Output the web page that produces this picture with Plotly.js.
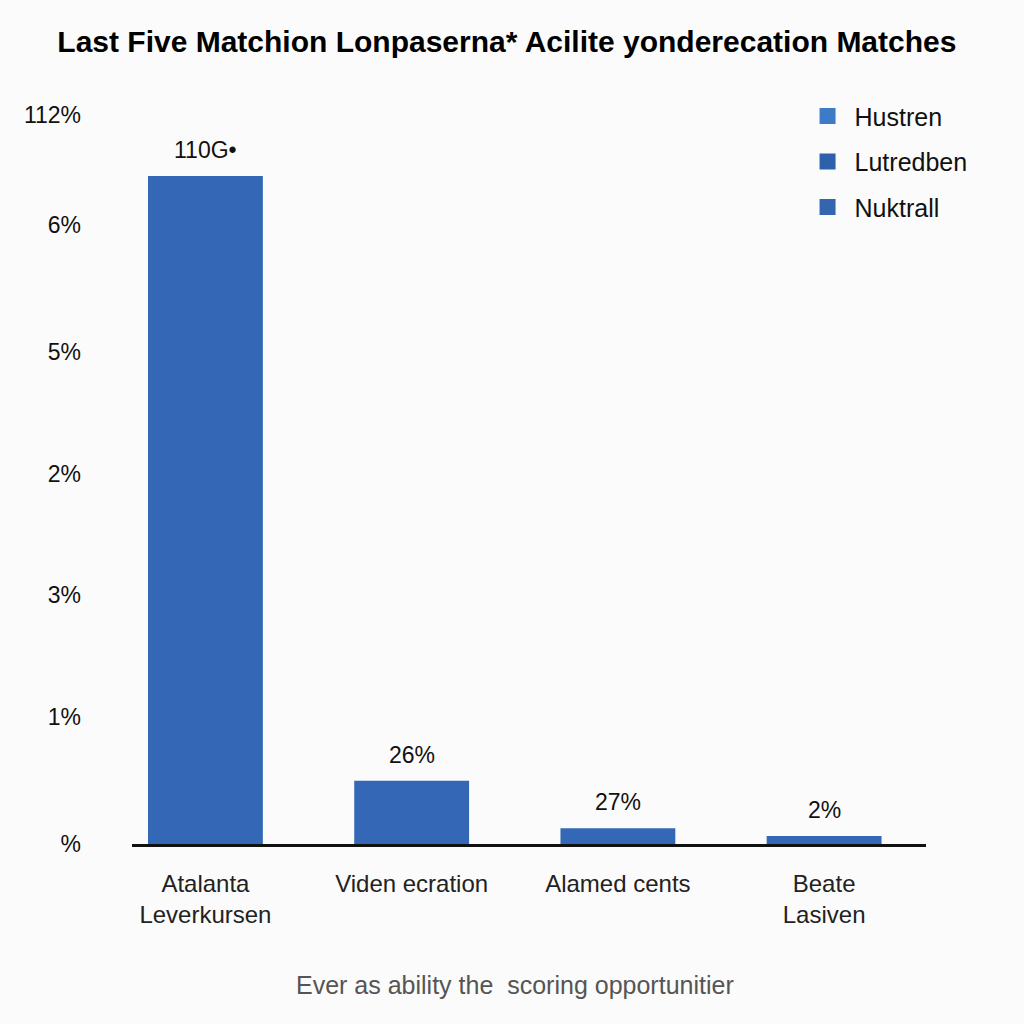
<!DOCTYPE html>
<html>
<head>
<meta charset="utf-8">
<script src="https://cdn.plot.ly/plotly-3.0.1.min.js"></script>
<style>
  html, body { margin: 0; padding: 0; background: #fbfbfb; }
  #chart { width: 1024px; height: 1024px; }
</style>
</head>
<body>
<div id="chart"></div>
<script>
// chart values
var teams = ["Atalanta<br>Leverkursen", "Viden ecration", "Alamed cents", "Beate<br>Lasiven"];
var scores = [110, 10.4, 2.6, 1.3];
var barLabels = ["110G\u2022", "26%", "27%", "2%"];
var tickVals = [0, 21, 41, 61, 81, 102, 120];
var tickText = ["%", "1%", "3%", "2%", "5%", "6%", "112%"];
var legendNames = ["Hustren", "Lutredben", "Nuktrall"];
var legendColors = ["#3b7bc8", "#2f60aa", "#3466b0"];
var xTitle = "Ever as ability the  scoring opportunitier";

var font = "Liberation Sans, Arial, sans-serif";

var traces = [
  {
    type: "bar",
    x: teams,
    y: scores,
    width: 0.557,
    marker: { color: "#3468b6", line: { width: 0 } },
    showlegend: false,
    hoverinfo: "skip",
  },
];
for (var i = 0; i < legendNames.length; i++) {
  traces.push({
    type: "scatter",
    mode: "markers",
    x: [null],
    y: [null],
    name: legendNames[i],
    legendgroup: "g" + i,
    marker: { symbol: "square", size: 20, color: legendColors[i] },
  });
}

var notes = [];
for (var j = 0; j < teams.length; j++) {
  notes.push({
    x: teams[j],
    y: scores[j],
    text: barLabels[j],
    showarrow: false,
    yanchor: "bottom",
    yshift: 11,
    font: { family: font, size: 23, color: "#111" },
  });
}
// axis title placed as a paper note
notes.push({
  xref: "paper",
  yref: "paper",
  x: 0.482,
  y: -0.187,
  xanchor: "center",
  yanchor: "middle",
  text: xTitle,
  showarrow: false,
  font: { family: font, size: 25, color: "#555" },
});

var layout = {
  width: 1024,
  height: 1024,
  paper_bgcolor: "#fbfbfb",
  plot_bgcolor: "#fbfbfb",
  margin: { l: 132, r: 98, t: 91, b: 180 },
  title: {
    text: "<b>Last Five Matchion Lonpaserna* Acilite yonderecation Matches</b>",
    x: 0.495,
    xanchor: "center",
    yref: "container",
    y: 0.959,
    yanchor: "middle",
    font: { family: font, size: 30, color: "#000" },
  },
  xaxis: {
    range: [-0.356, 3.494],
    showline: true,
    linecolor: "#111",
    linewidth: 3,
    showgrid: false,
    zeroline: false,
    ticks: "",
    ticklabelstandoff: 16,
    tickfont: { family: font, size: 24, color: "#222" },
    automargin: false,
  },
  yaxis: {
    range: [0, 124],
    showline: false,
    showgrid: false,
    zeroline: false,
    tickmode: "array",
    tickvals: tickVals,
    ticktext: tickText,
    ticks: "",
    ticklabelstandoff: 50,
    automargin: false,
    tickfont: { family: font, size: 23, color: "#111" },
  },
  legend: {
    x: 0.842,
    xanchor: "left",
    y: 0.997,
    yanchor: "top",
    bgcolor: "rgba(0,0,0,0)",
    tracegroupgap: 10,
    itemwidth: 44,
    font: { family: font, size: 25, color: "#111" },
  },
  annotations: notes,
  showlegend: true,
};

Plotly.newPlot("chart", traces, layout, { displayModeBar: false, staticPlot: true });
</script>
</body>
</html>
